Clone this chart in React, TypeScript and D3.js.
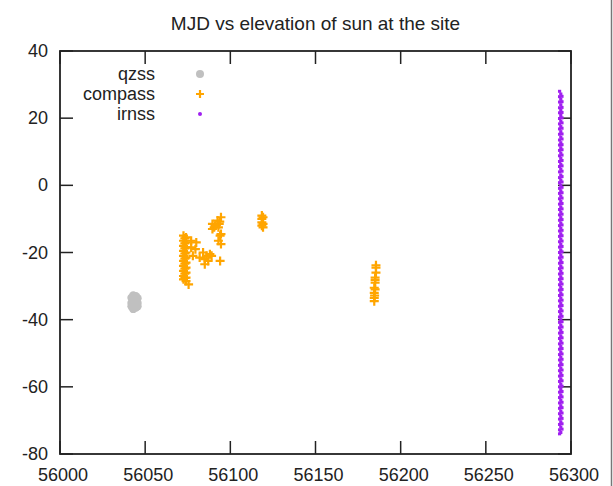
import React from "react";
import * as d3 from "d3";

const title = "MJD vs elevation of sun at the site";
const xTicks = [56000, 56050, 56100, 56150, 56200, 56250, 56300];
const yTicks = [40, 20, 0, -20, -40, -60, -80];
const seriesNames = ["qzss", "compass", "irnss"];

// qzss points
const qzssMjd = [56042, 56042, 56042, 56043, 56043, 56043, 56043, 56044.5, 56044.5, 56044.5, 56045.5, 56045.5, 56045.5, 56043.8];
const qzssElev = [-33.5, -35, -36, -32.8, -34.2, -35.5, -36.8, -33, -34.5, -36.4, -33.6, -35, -36, -35.2];

// compass points
const compassMjd = [
  56072.5, 56072.5, 56072.5, 56072.5, 56072.5, 56072.5, 56072.5, 56072.5, 56072.5, 56072.5,
  56073.3, 56073.3, 56073.3, 56073.3, 56073.3, 56073.3, 56073.3, 56073.3, 56073.3,
  56074, 56074, 56074, 56074, 56074, 56074, 56074, 56074, 56074, 56074, 56075.5,
  56077, 56080, 56077, 56079.5, 56078, 56082, 56084, 56085, 56086, 56087, 56085, 56089, 56094, 56088,
  56089.5, 56090.5, 56089.5, 56092.5, 56093.5, 56094.5, 56093, 56094, 56093, 56094.5, 56094.5, 56091, 56093.8,
  56118.5, 56118.5, 56118.5, 56118.5, 56119.2, 56119.2, 56119.2,
  56184.5, 56184.5, 56184.5, 56185, 56185, 56185.5, 56185.5, 56185.5, 56184.5, 56185, 56185, 56184.7,
];
const compassElev = [
  -15, -16.5, -18, -19.5, -21, -22.5, -24, -25.5, -27, -28,
  -15.8, -17.3, -18.8, -20.3, -21.8, -23.3, -24.8, -26.3, -27.6,
  -15.5, -17, -18.5, -20, -21.5, -23, -24.5, -26, -27.5, -28.5, -29.5,
  -16.5, -17, -18.5, -19, -21, -21.5, -20, -22, -21, -22.5, -23.5, -21, -22.5, -20.5,
  -11.5, -12.5, -13, -10.5, -11.5, -9.5, -12.5, -15, -16.5, -17.5, -14.5, -12, -10.8,
  -9, -10, -11, -12, -9.5, -11.5, -12.5,
  -33.5, -32, -30.5, -29, -27.5, -26, -24.5, -23.8, -34.5, -31, -28.2, -32.8,
];

// irnss points (three adjacent days)
const irnssDays = [56293.3, 56294.0, 56294.7];
const irnssElevDay1 = [28, 26.4, 24.8, 23.1, 21.6, 19.9, 18.3, 16.8, 15.2, 13.5, 12, 10.4, 8.8, 7.1, 5.6, 4, 2.3, 0.8, -0.9, -2.4, -4, -5.6, -7.2, -8.8, -10.4, -12, -13.6, -15.2, -16.8, -18.4, -20, -21.6, -23.2, -24.8, -26.4, -28, -29.6, -31.2, -32.8, -34.4, -36, -37.6, -39.2, -40.8, -42.4, -44, -45.6, -47.2, -48.8, -50.4, -52, -53.6, -55.2, -56.8, -58.4, -60, -61.6, -63.2, -64.8, -66.4, -68, -69.6, -71.2, -72.8, -74];
const irnssElevDay2 = [27.2, 25.6, 24, 22.3, 20.8, 19.1, 17.5, 16, 14.3, 12.7, 11.2, 9.6, 8, 6.3, 4.8, 3.1, 1.6, 0, -1.6, -3.2, -4.8, -6.4, -8, -9.6, -11.2, -12.8, -14.4, -16, -17.6, -19.2, -20.8, -22.4, -24, -25.6, -27.2, -28.8, -30.4, -32, -33.6, -35.2, -36.8, -38.4, -40, -41.6, -43.2, -44.8, -46.4, -48, -49.6, -51.2, -52.8, -54.4, -56, -57.6, -59.2, -60.8, -62.4, -64, -65.6, -67.2, -68.8, -70.4, -72, -73.6];
const irnssElevDay3 = [26.5, 24.9, 23.2, 21.7, 20.1, 18.6, 17, 15.3, 13.8, 12.1, 10.6, 9, 7.4, 5.8, 4.2, 2.6, 1, -0.6, -2.2, -3.8, -5.4, -7, -8.6, -10.2, -11.8, -13.4, -15, -16.6, -18.2, -19.8, -21.4, -23, -24.6, -26.2, -27.8, -29.4, -31, -32.6, -34.2, -35.8, -37.4, -39, -40.6, -42.2, -43.8, -45.4, -47, -48.6, -50.2, -51.8, -53.4, -55, -56.6, -58.2, -59.8, -61.4, -63, -64.6, -66.2, -67.8, -69.4, -71, -72.6];

const W = 613;
const H = 486;
const M = { left: 60, right: 571, top: 51, bottom: 454 };
const FONT = "'Liberation Sans', Arial, sans-serif";

const ORANGE = "#ffa500";
const PURPLE = "#a020f0";
const GRAY = "#c0c0c0";

function Plus({ x, y, s = 4.5 }: { x: number; y: number; s?: number }) {
  return (
    <path
      d={`M${x - s},${y}H${x + s}M${x},${y - s}V${y + s}`}
      stroke={ORANGE}
      strokeWidth={2.2}
      fill="none"
    />
  );
}

export default function App() {
  const x = d3.scaleLinear().domain([56000, 56300]).range([M.left, M.right]);
  const y = d3.scaleLinear().domain([-80, 40]).range([M.bottom, M.top]);
  const tickLen = 13;

  const irnss: [number, number][] = [];
  [irnssElevDay1, irnssElevDay2, irnssElevDay3].forEach((arr, i) =>
    arr.forEach((e) => irnss.push([irnssDays[i], e]))
  );

  const legendY = [74, 94, 114];

  return (
    <svg
      width={W}
      height={H}
      style={{ position: "absolute", left: 0, top: 0, background: "#fff" }}
      fontFamily={FONT}
    >
      <rect x={0} y={0} width={W} height={H} fill="#fff" />
      <text x={(M.left + M.right) / 2} y={30} textAnchor="middle" fontSize={19} fill="#222">
        {title}
      </text>

      {/* ticks */}
      {xTicks.map((t) => (
        <g key={"x" + t}>
          <line x1={x(t)} x2={x(t)} y1={M.bottom} y2={M.bottom - tickLen} stroke="#222" strokeWidth={1.5} />
          <line x1={x(t)} x2={x(t)} y1={M.top} y2={M.top + tickLen} stroke="#222" strokeWidth={1.5} />
          <text x={x(t) + 3} y={481} textAnchor="middle" fontSize={18} fill="#222">
            {t}
          </text>
        </g>
      ))}
      {yTicks.map((t) => (
        <g key={"y" + t}>
          <line x1={M.left} x2={M.left + tickLen} y1={y(t)} y2={y(t)} stroke="#222" strokeWidth={1.5} />
          <line x1={M.right} x2={M.right - tickLen} y1={y(t)} y2={y(t)} stroke="#222" strokeWidth={1.5} />
          <text x={48} y={y(t) + 6} textAnchor="end" fontSize={18} fill="#222">
            {t}
          </text>
        </g>
      ))}

      {/* data */}
      {qzssMjd.map((m, i) => (
        <circle key={"q" + i} cx={x(m)} cy={y(qzssElev[i])} r={4.2} fill={GRAY} />
      ))}
      {compassMjd.map((m, i) => (
        <Plus key={"c" + i} x={x(m)} y={y(compassElev[i])} />
      ))}
      {irnss.map(([m, e], i) => (
        <rect key={"i" + i} x={x(m) - 1.6} y={y(e) - 1.5} width={3.2} height={3} fill={PURPLE} />
      ))}

      {/* frame */}
      <rect
        x={M.left}
        y={M.top}
        width={M.right - M.left}
        height={M.bottom - M.top}
        fill="none"
        stroke="#222"
        strokeWidth={1.8}
      />

      {/* legend */}
      {seriesNames.map((n, i) => (
        <text key={n} x={155} y={legendY[i] + 6} textAnchor="end" fontSize={18} fill="#222">
          {n}
        </text>
      ))}
      <circle cx={200} cy={legendY[0]} r={4} fill={GRAY} />
      <Plus x={200} y={legendY[1]} s={4} />
      <circle cx={200} cy={legendY[2]} r={2} fill={PURPLE} />

      {/* right edge border */}
      <line x1={611.5} x2={611.5} y1={0} y2={H} stroke="#777" strokeWidth={1.5} />
    </svg>
  );
}
